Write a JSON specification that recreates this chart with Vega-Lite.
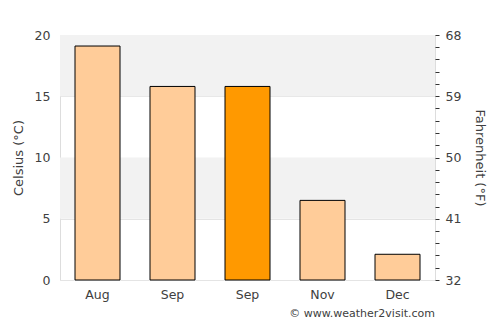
{
  "$schema": "https://vega.github.io/schema/vega-lite/v6.json",
  "width": 375,
  "height": 245,
  "autosize": {"type": "none"},
  "padding": {"left": 60, "top": 35, "right": 65, "bottom": 45},
  "background": "white",
  "config": {
    "font": "DejaVu Sans",
    "view": {"stroke": "#dddddd", "strokeWidth": 1},
    "axis": {"labelFont": "DejaVu Sans", "titleFont": "DejaVu Sans", "labelColor": "#404040", "titleColor": "#404040", "labelFontSize": 12.5, "titleFontSize": 13, "titleFontWeight": "normal"}
  },
  "title": {
    "text": "© www.weather2visit.com",
    "orient": "bottom",
    "anchor": "end",
    "frame": "group",
    "fontSize": 11,
    "fontWeight": "normal",
    "color": "#404040",
    "offset": 7
  },
  "layer": [
    {
      "layer": [
        {
          "data": {"values": [{"lo": 15, "hi": 20}, {"lo": 5, "hi": 10}]},
          "mark": {"type": "rect", "color": "#f2f2f2"},
          "encoding": {
            "y": {"field": "lo", "type": "quantitative", "scale": {"domain": [0, 20]},
              "axis": {"title": "Celsius (°C)", "values": [0, 5, 10, 15, 20], "grid": true, "gridColor": "#e4e4e4", "domain": false, "ticks": false, "labelPadding": 10, "titlePadding": 9}},
            "y2": {"field": "hi"}
          }
        },
        {
          "data": {"values": [
            {"key": "Aug|1", "temp": 19.1, "hl": "no"},
            {"key": "Sep|2", "temp": 15.8, "hl": "no"},
            {"key": "Sep|3", "temp": 15.8, "hl": "yes"},
            {"key": "Nov|4", "temp": 6.5, "hl": "no"},
            {"key": "Dec|5", "temp": 2.1, "hl": "no"}
          ]},
          "mark": {"type": "bar", "stroke": "black", "strokeWidth": 1},
          "encoding": {
            "x": {"field": "key", "type": "nominal", "sort": null,
              "scale": {"paddingInner": 0.4, "paddingOuter": 0.2},
              "axis": {"title": null, "labelExpr": "split(datum.value, '|')[0]", "labelAngle": 0, "ticks": false, "domain": false, "labelPadding": 8}},
            "y": {"field": "temp", "type": "quantitative",
              "axis": {"title": "Celsius (°C)", "values": [0, 5, 10, 15, 20], "grid": true, "gridColor": "#e4e4e4", "domain": false, "ticks": false, "labelPadding": 10, "titlePadding": 9}},
            "color": {"field": "hl", "type": "nominal", "scale": {"domain": ["no", "yes"], "range": ["#ffcc99", "#ff9900"]}, "legend": null}
          }
        }
      ]
    },
    {
      "data": {"values": [{"f": 32}]},
      "mark": {"type": "rule", "opacity": 0},
      "encoding": {
        "y": {"field": "f", "type": "quantitative", "scale": {"domain": [32, 68]},
          "axis": {"orient": "right", "title": "Fahrenheit (°F)", "grid": false, "domain": false,
            "values": [32, 33.8, 35.6, 37.4, 39.2, 41, 42.8, 44.6, 46.4, 48.2, 50, 51.8, 53.6, 55.4, 57.2, 59, 60.8, 62.6, 64.4, 66.2, 68],
            "labelExpr": "abs((datum.value - 32) / 9 - round((datum.value - 32) / 9)) < 0.01 ? format(datum.value, 'd') : ''",
            "tickSize": 4, "tickColor": "#333333", "labelPadding": 6, "titlePadding": 12, "labelBound": false, "labelOverlap": false}}
      }
    }
  ],
  "resolve": {"scale": {"y": "independent"}}
}
